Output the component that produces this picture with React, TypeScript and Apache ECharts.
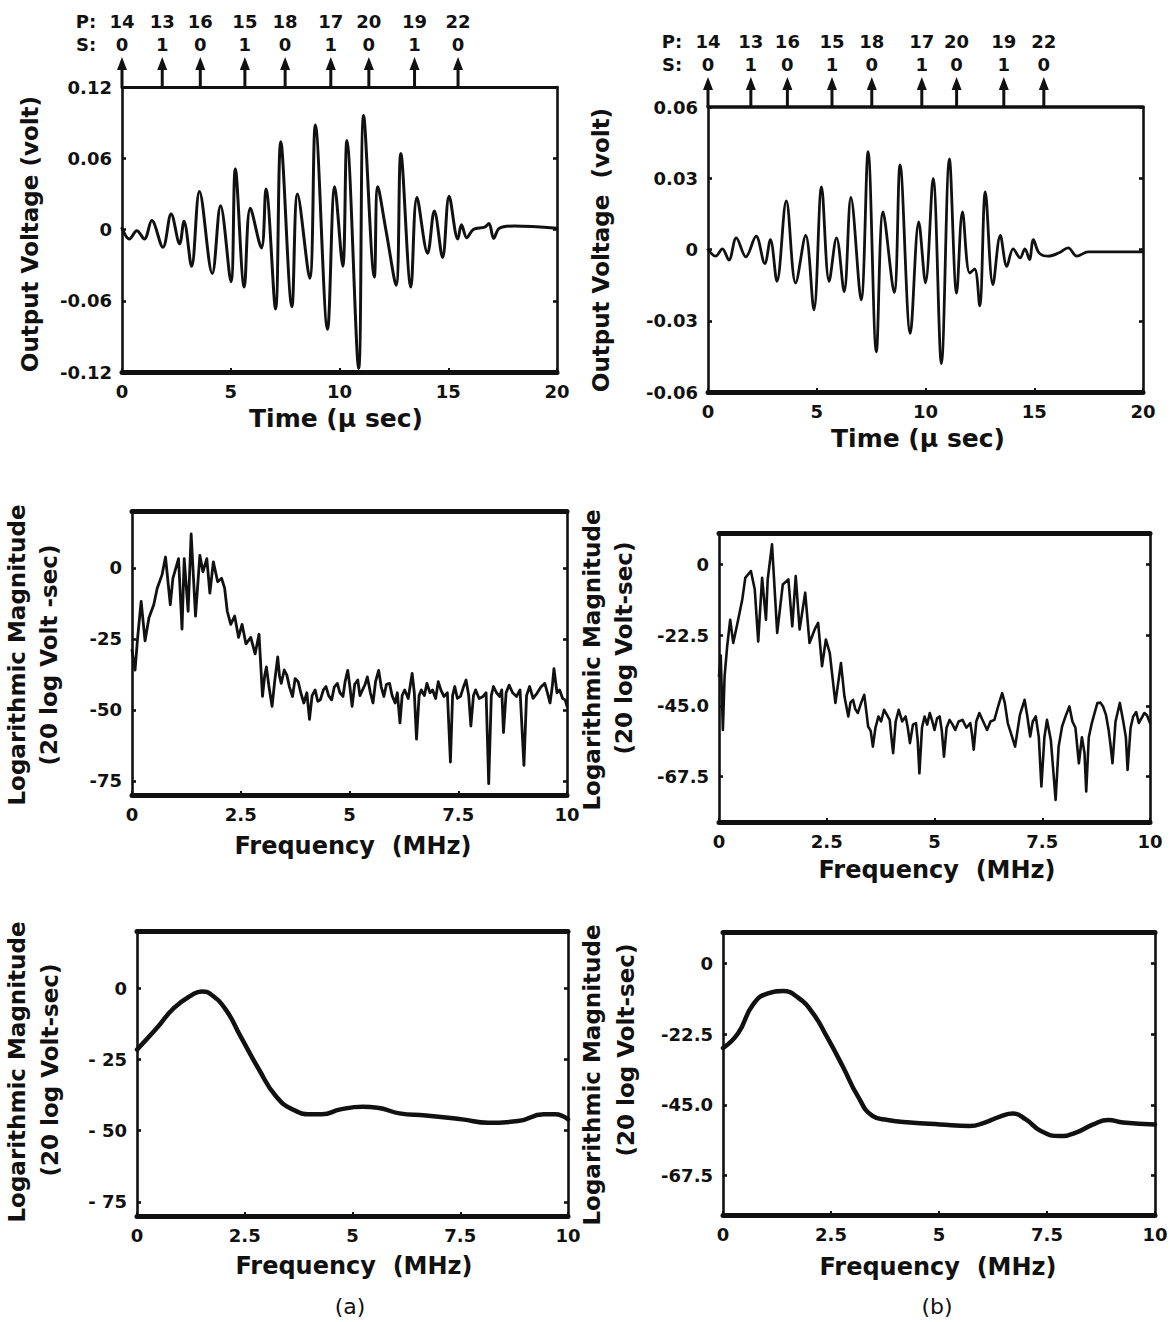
import React, { useEffect, useRef } from "react";
import * as echarts from "echarts";

const FONT = '"DejaVu Sans", "Liberation Sans", sans-serif';
const INK = "#111111";

// ---------- tick values and labels ----------
const timeTicks = [0, 5, 10, 15, 20];
const timeTickLabels = ["0", "5", "10", "15", "20"];
const freqTicks = [0, 2.5, 5, 7.5, 10];
const freqTickLabels = ["0", "2.5", "5", "7.5", "10"];
const p1YTicks = [0.12, 0.06, 0, -0.06, -0.12];
const p1YLabels = ["0.12", "0.06", "0", "-0.06", "-0.12"];
const p2YTicks = [0.06, 0.03, 0, -0.03, -0.06];
const p2YLabels = ["0.06", "0.03", "0", "-0.03", "-0.06"];
const magTicksA = [0, -25, -50, -75];
const magLabelsA = ["0", "-25", "-50", "-75"];
const magLabelsA2 = ["0", "- 25", "- 50", "- 75"];
const magTicksB = [0, -22.5, -45, -67.5];
const magLabelsB = ["0", "-22.5", "-45.0", "-67.5"];

// ---------- top annotations (pulse positions) ----------
const pLabels = ["14", "13", "16", "15", "18", "17", "20", "19", "22"];
const sLabels = ["0", "1", "0", "1", "0", "1", "0", "1", "0"];
const p1Arrows = [0, 1.85, 3.6, 5.65, 7.5, 9.6, 11.35, 13.45, 15.45];
const p2Arrows = [0, 1.97, 3.65, 5.7, 7.53, 9.83, 11.43, 13.6, 15.44];

// ---------- (a) output voltage vs time (µs, volt) ----------
const p1Signal = [
  [0, 0.001], [0.34, -0.008], [0.68, -0.001], [1.03, -0.008], [1.37, 0.0075], [1.88, -0.015],
  [2.26, 0.013], [2.65, -0.012], [2.85, 0.007], [3.2, -0.031], [3.56, 0.032], [4.15, -0.037],
  [4.53, 0.02], [5.01, -0.044], [5.21, 0.051], [5.62, -0.0485], [5.9, 0.018], [6.41, -0.0155],
  [6.62, 0.034], [7.06, -0.067], [7.3, 0.074], [7.81, -0.065], [8.07, 0.03], [8.63, -0.041],
  [8.89, 0.088], [9.45, -0.084], [9.78, 0.036], [10.15, -0.031], [10.34, 0.075], [10.88, -0.117],
  [11.11, 0.096], [11.6, -0.04], [11.76, 0.036], [12.14, -0.001], [12.6, -0.047], [12.82, 0.064],
  [13.28, -0.0485], [13.56, 0.027], [14.05, -0.02], [14.36, 0.0155], [14.74, -0.0235], [15.04, 0.028],
  [15.44, -0.008], [15.61, 0.004], [15.85, -0.007], [16.15, 0], [16.67, 0.002], [16.87, 0.005],
  [17.09, -0.0075], [17.35, 0.001], [18.03, 0.003], [20, 0.001],
];

// ---------- (b) output voltage vs time ----------
const p2Signal = [
  [0, 0], [0.35, -0.0028], [0.66, 0.0003], [0.96, -0.0045], [1.3, 0.0049], [1.74, -0.0031],
  [2.21, 0.0056], [2.61, -0.0059], [2.87, 0.0042], [3.17, -0.0134], [3.6, 0.0205], [4.03, -0.0141],
  [4.49, 0.0059], [4.87, -0.0254], [5.22, 0.0264], [5.57, -0.0134], [5.91, 0.0049], [6.26, -0.0177],
  [6.57, 0.0219], [7.04, -0.0212], [7.36, 0.0412], [7.74, -0.0431], [8.05, 0.0158], [8.56, -0.0181],
  [8.83, 0.0356], [9.3, -0.0353], [9.69, 0.0116], [10.0, -0.014], [10.35, 0.0299], [10.73, -0.048],
  [11.1, 0.0381], [11.43, -0.0184], [11.7, 0.0158], [12.03, -0.0099], [12.26, -0.0082], [12.49, -0.0237],
  [12.75, 0.0243], [13.1, -0.0148], [13.44, 0.0059], [13.74, -0.0071], [14.03, 0.0003], [14.35, -0.0035],
  [14.57, 0.0003], [14.78, -0.0042], [14.96, 0.0042], [15.22, -0.0014], [15.65, -0.0028], [16.14, -0.0014],
  [16.56, 0.0007], [16.96, -0.0028], [17.48, -0.001], [20, -0.001],
];

// ---------- (a) log magnitude spectrum (MHz, dB) ----------
const p3Spectrum = [
  [0, -29], [0.07, -36], [0.13, -24.5], [0.21, -11.8], [0.3, -25.7], [0.39, -17.6], [0.5, -13],
  [0.58, -7.2], [0.69, -2.5], [0.77, 3.8], [0.88, -13], [0.94, -3.7], [1.07, 3.2], [1.15, -21.6],
  [1.2, 3.2], [1.29, -15.3], [1.36, 11.9], [1.46, -17], [1.56, 4.4], [1.63, -1.4], [1.72, 3.2],
  [1.79, -8.9], [1.87, 2.1], [1.97, -4.9], [2.06, -3.7], [2.13, -7.2], [2.19, -15.3], [2.27, -19.9],
  [2.36, -17], [2.45, -24.5], [2.53, -19.9], [2.62, -26.8], [2.73, -24.5], [2.83, -30.3], [2.92, -23.4],
  [3.0, -45.3], [3.05, -38], [3.09, -34.9], [3.15, -42], [3.22, -48.8], [3.28, -40], [3.35, -31.4],
  [3.39, -38], [3.43, -40.7], [3.5, -36], [3.56, -37.8], [3.62, -42], [3.69, -45.3], [3.75, -39],
  [3.82, -40.1], [3.88, -44], [3.95, -47.6], [4.02, -44], [4.08, -53.4], [4.14, -45], [4.21, -43],
  [4.27, -47], [4.33, -46.5], [4.4, -43], [4.46, -41.8], [4.52, -45], [4.59, -46.5], [4.65, -42],
  [4.72, -40.7], [4.78, -44], [4.85, -45.3], [4.9, -40], [4.96, -36.1], [5.01, -42], [5.06, -48.8],
  [5.12, -41], [5.19, -39.5], [5.24, -45], [5.3, -43], [5.36, -41], [5.41, -38.4], [5.48, -44],
  [5.54, -47.6], [5.6, -40], [5.67, -36.1], [5.73, -42], [5.79, -45.3], [5.85, -41], [5.92, -40.7],
  [5.98, -45], [6.05, -47.6], [6.1, -44], [6.16, -54.6], [6.21, -45], [6.27, -43], [6.35, -46],
  [6.44, -37.2], [6.49, -44], [6.54, -60.3], [6.6, -45], [6.65, -43], [6.72, -45], [6.78, -40.7],
  [6.85, -44], [6.91, -43], [6.98, -46], [7.04, -40.1], [7.1, -43], [7.17, -45.3], [7.25, -44],
  [7.32, -68.4], [7.37, -45], [7.42, -41.8], [7.48, -46], [7.55, -45.3], [7.62, -42], [7.68, -39.5],
  [7.74, -45], [7.79, -55.7], [7.85, -45], [7.9, -43], [7.98, -46], [8.07, -45.3], [8.14, -44],
  [8.2, -76], [8.26, -45], [8.31, -41.8], [8.38, -44], [8.45, -45.3], [8.5, -43], [8.54, -58],
  [8.6, -44], [8.67, -41.3], [8.75, -44], [8.84, -45.3], [8.92, -43], [9.01, -69.6], [9.07, -45],
  [9.14, -41.8], [9.22, -46], [9.31, -44.2], [9.4, -42], [9.49, -40.7], [9.55, -44], [9.61, -47.6],
  [9.66, -42], [9.7, -35.5], [9.77, -44], [9.83, -43], [9.9, -46], [9.96, -46.5], [10, -48.8],
];

// ---------- (b) log magnitude spectrum ----------
const p4Spectrum = [
  [0, -35.6], [0.04, -29], [0.09, -52.7], [0.13, -35.6], [0.19, -26], [0.26, -17.6], [0.33, -25],
  [0.43, -18.6], [0.54, -11.2], [0.61, -4.3], [0.74, -2.1], [0.83, -8], [0.91, -24.5], [1.0, -4.3],
  [1.09, -17.6], [1.13, -4.8], [1.23, 6.4], [1.35, -21.8], [1.48, -6.4], [1.61, -4.8], [1.7, -19.7],
  [1.78, -3.7], [1.87, -20.7], [2.0, -9], [2.1, -25], [2.22, -20.7], [2.3, -18.6], [2.39, -32.4],
  [2.48, -23.9], [2.57, -28.2], [2.7, -44.1], [2.83, -31.4], [2.91, -42],
  [3.0, -48.4], [3.05, -44], [3.11, -43.1], [3.16, -46], [3.22, -47.3], [3.3, -44], [3.37, -41.5],
  [3.42, -47], [3.46, -51.6], [3.52, -53], [3.57, -58], [3.63, -52], [3.7, -48.4], [3.76, -50],
  [3.83, -46.3], [3.9, -48], [3.96, -49.5], [4.0, -55], [4.04, -60.1], [4.1, -50], [4.17, -46.3],
  [4.25, -50], [4.33, -48.4], [4.38, -52], [4.43, -56.9], [4.5, -51], [4.57, -50.5], [4.61, -56],
  [4.65, -66.5], [4.71, -52], [4.77, -48.4], [4.83, -51], [4.89, -47.3], [4.95, -50], [5.0, -52.7],
  [5.06, -49], [5.12, -48.4], [5.17, -53], [5.22, -61.2], [5.28, -52], [5.35, -49.5], [5.42, -51],
  [5.48, -52.7], [5.56, -50], [5.65, -49.5], [5.74, -52], [5.83, -50.5], [5.87, -54], [5.91, -59],
  [5.97, -50], [6.04, -47.3], [6.13, -50], [6.22, -52.7], [6.3, -50], [6.39, -49.5], [6.48, -45],
  [6.57, -41], [6.63, -44], [6.7, -50.5], [6.78, -54], [6.87, -58], [6.98, -48], [7.09, -43.1],
  [7.15, -48], [7.22, -54.8], [7.28, -50], [7.35, -48.4], [7.42, -55], [7.48, -70.7], [7.55, -55],
  [7.61, -49.5], [7.7, -56], [7.81, -75], [7.88, -58], [7.96, -51.6], [8.05, -48], [8.13, -45.2],
  [8.2, -50], [8.27, -52], [8.35, -63.3], [8.42, -55], [8.48, -60], [8.52, -72.3], [8.58, -55],
  [8.65, -50.5], [8.72, -47], [8.78, -44.1], [8.85, -44], [8.91, -45.2], [8.98, -48], [9.04, -52.7],
  [9.08, -57], [9.13, -63.3], [9.2, -50], [9.3, -44.1], [9.38, -50], [9.44, -55], [9.48, -65.4],
  [9.55, -52], [9.61, -48.4], [9.68, -47], [9.74, -50.5], [9.8, -49], [9.87, -47.3], [9.93, -48],
  [10, -50.5],
];

// ---------- (a) smoothed spectrum ----------
const p5Smooth = [
  [0, -21.6], [0.43, -14.6], [0.86, -7], [1.29, -2.3], [1.5, -1.2], [1.72, -2.3], [2.06, -7.6],
  [2.4, -16.9], [2.83, -28.6], [3.22, -37.9], [3.61, -42.6], [4.03, -44.3], [4.29, -44.3], [4.72, -42.6],
  [5.24, -41.7], [5.58, -42], [6.09, -44], [6.7, -44.7], [7.55, -46.1], [8.15, -47.3], [8.84, -46.7],
  [9.44, -44.3], [9.7, -44.3], [10, -46.1],
];

// ---------- (b) smoothed spectrum ----------
const p6Smooth = [
  [0, -26.9], [0.35, -22.2], [0.69, -13.2], [1.04, -9.5], [1.39, -8.8], [1.73, -10.8], [2.08, -15.8],
  [2.42, -23.7], [2.77, -32.7], [3.12, -42.2], [3.46, -48.5], [3.81, -49.8], [4.33, -50.6], [5.02, -51.2],
  [5.71, -51.7], [6.06, -50.6], [6.41, -48.7], [6.71, -47.7], [7.01, -49.6], [7.36, -53.3], [7.79, -54.9],
  [8.14, -54], [8.57, -51.2], [8.92, -49.8], [9.26, -50.6], [10, -51.2],
];

type Panel = {
  box: [number, number, number, number]; // left, top, right, bottom (px)
  xMin: number; xMax: number; xTicks: number[]; xLabels: string[];
  yMin: number; yMax: number; yTicks: number[]; yLabels: string[];
  data: number[][]; smooth: boolean | number; lw: number; topW: number;
  arrows?: number[];
};

const panels: Panel[] = [
  { box: [122, 87, 557, 372], xMin: 0, xMax: 20, xTicks: timeTicks, xLabels: timeTickLabels,
    yMin: -0.12, yMax: 0.12, yTicks: p1YTicks, yLabels: p1YLabels, data: p1Signal, smooth: 0.35, lw: 3, topW: 3, arrows: p1Arrows },
  { box: [708, 107, 1143, 392], xMin: 0, xMax: 20, xTicks: timeTicks, xLabels: timeTickLabels,
    yMin: -0.06, yMax: 0.06, yTicks: p2YTicks, yLabels: p2YLabels, data: p2Signal, smooth: 0.35, lw: 2.8, topW: 3.5, arrows: p2Arrows },
  { box: [132, 511, 567, 795], xMin: 0, xMax: 10, xTicks: freqTicks, xLabels: freqTickLabels,
    yMin: -80, yMax: 20, yTicks: magTicksA, yLabels: magLabelsA, data: p3Spectrum, smooth: false, lw: 2.8, topW: 5 },
  { box: [719, 533, 1150, 822], xMin: 0, xMax: 10, xTicks: freqTicks, xLabels: freqTickLabels,
    yMin: -82, yMax: 10, yTicks: magTicksB, yLabels: magLabelsB, data: p4Spectrum, smooth: false, lw: 2.6, topW: 5 },
  { box: [137, 931, 568, 1216], xMin: 0, xMax: 10, xTicks: freqTicks, xLabels: freqTickLabels,
    yMin: -80, yMax: 20, yTicks: magTicksA, yLabels: magLabelsA2, data: p5Smooth, smooth: 0.5, lw: 4.5, topW: 5 },
  { box: [723, 932, 1155, 1215], xMin: 0, xMax: 10, xTicks: freqTicks, xLabels: freqTickLabels,
    yMin: -80, yMax: 10, yTicks: magTicksB, yLabels: magLabelsB, data: p6Smooth, smooth: 0.5, lw: 4.5, topW: 5 },
];

const fmt = (vals: number[], labels: string[]) => (v: number) => {
  const i = vals.findIndex((a) => Math.abs(a - v) < 1e-6);
  return i >= 0 ? labels[i] : "";
};

const tickLabelStyle = { fontSize: 18, fontWeight: "bold" as const, fontFamily: FONT, color: INK };

function vText(text: string, x: number, y: number, size = 23) {
  return {
    type: "text", x, y, rotation: Math.PI / 2, silent: true,
    style: { text, fill: INK, font: `bold ${size}px ${FONT}`, textAlign: "center", textVerticalAlign: "middle" },
  };
}
function hText(text: string, x: number, y: number, size = 24, weight = "bold") {
  return {
    type: "text", x, y, silent: true,
    style: { text, fill: INK, font: `${weight} ${size}px ${FONT}`, textAlign: "center", textVerticalAlign: "middle" },
  };
}

function buildOption() {
  const grid: any[] = [];
  const xAxis: any[] = [];
  const yAxis: any[] = [];
  const series: any[] = [];

  panels.forEach((p, i) => {
    const [l, t, r, b] = p.box;
    grid.push({ left: l, top: t, width: r - l, height: b - t, show: false });
    xAxis.push({
      gridIndex: i, type: "value", min: p.xMin, max: p.xMax, position: "bottom",
      axisLine: { show: true, onZero: false, lineStyle: { color: INK, width: 5 } },
      axisTick: { show: true, inside: true, length: 4, customValues: p.xTicks, lineStyle: { color: INK, width: 2 } },
      axisLabel: { ...tickLabelStyle, margin: 10, customValues: p.xTicks, formatter: fmt(p.xTicks, p.xLabels) },
      splitLine: { show: false },
    });
    xAxis.push({
      gridIndex: i, type: "value", min: p.xMin, max: p.xMax, position: "top",
      axisLine: { show: true, onZero: false, lineStyle: { color: INK, width: p.topW } },
      axisTick: { show: false }, axisLabel: { show: false }, splitLine: { show: false },
    });
    yAxis.push({
      gridIndex: i, type: "value", min: p.yMin, max: p.yMax, position: "left",
      axisLine: { show: true, onZero: false, lineStyle: { color: INK, width: 2.6 } },
      axisTick: { show: true, inside: true, length: 4, customValues: p.yTicks, lineStyle: { color: INK, width: 2.6 } },
      axisLabel: { ...tickLabelStyle, margin: 10, customValues: p.yTicks, formatter: fmt(p.yTicks, p.yLabels) },
      splitLine: { show: false },
    });
    yAxis.push({
      gridIndex: i, type: "value", min: p.yMin, max: p.yMax, position: "right",
      axisLine: { show: true, onZero: false, lineStyle: { color: INK, width: 2.6 } },
      axisTick: { show: true, inside: true, length: 4, customValues: p.yTicks, lineStyle: { color: INK, width: 2.6 } },
      axisLabel: { show: false }, splitLine: { show: false },
    });
    series.push({
      type: "line", xAxisIndex: 2 * i, yAxisIndex: 2 * i, data: p.data, showSymbol: false,
      smooth: p.smooth, lineStyle: { color: INK, width: p.lw, join: "round", cap: "round" }, silent: true,
    });
    if (p.arrows) {
      const yTop = p.yMax;
      series.push({
        type: "custom", xAxisIndex: 2 * i, yAxisIndex: 2 * i, clip: false, silent: true,
        data: p.arrows.map((a, k) => [a, k]),
        renderItem: (_params: any, api: any) => {
          const tt = api.value(0);
          const k = api.value(1);
          const pt = api.coord([tt, yTop]);
          const x = pt[0], y = pt[1];
          const font = `bold 18px ${FONT}`;
          const children: any[] = [
            { type: "line", shape: { x1: x, y1: y, x2: x, y2: y - 20 }, style: { stroke: INK, lineWidth: 3 } },
            { type: "polygon", shape: { points: [[x - 5, y - 17], [x + 5, y - 17], [x, y - 30]] }, style: { fill: INK } },
            { type: "text", x, y: y - 66, style: { text: pLabels[k], fill: INK, font, textAlign: "center", textVerticalAlign: "middle" } },
            { type: "text", x, y: y - 43, style: { text: sLabels[k], fill: INK, font, textAlign: "center", textVerticalAlign: "middle" } },
          ];
          if (k === 0) {
            children.push({ type: "text", x: x - 36, y: y - 66, style: { text: "P:", fill: INK, font, textAlign: "center", textVerticalAlign: "middle" } });
            children.push({ type: "text", x: x - 36, y: y - 43, style: { text: "S:", fill: INK, font, textAlign: "center", textVerticalAlign: "middle" } });
          }
          return { type: "group", children };
        },
      });
    }
  });

  const graphic = [
    vText("Output Voltage (volt)", 30, 234),
    vText("Output Voltage  (volt)", 601, 250),
    vText("Logarithmic Magnitude", 17, 655),
    vText("(20 log Volt -sec)", 49, 655),
    vText("Logarithmic Magnitude", 592, 660),
    vText("(20 log Volt-sec)", 624, 648),
    vText("Logarithmic Magnitude", 17, 1072),
    vText("(20 log Volt-sec)", 50, 1070),
    vText("Logarithmic Magnitude", 592, 1075),
    vText("(20 log Volt-sec)", 626, 1050),
    hText("Time (\u03bc sec)", 336, 418, 25),
    hText("Time (\u03bc sec)", 918, 438, 25),
    hText("Frequency  (MHz)", 353, 846, 24),
    hText("Frequency  (MHz)", 937, 870, 24),
    hText("Frequency  (MHz)", 354, 1266, 24),
    hText("Frequency  (MHz)", 938, 1267, 24),
    hText("(a)", 350, 1306, 22, "normal"),
    hText("(b)", 937, 1306, 22, "normal"),
  ];

  return {
    animation: false,
    backgroundColor: "#ffffff",
    grid, xAxis, yAxis, series, graphic,
  };
}

export default function App() {
  const ref = useRef<HTMLDivElement>(null);
  useEffect(() => {
    if (!ref.current) return;
    const chart = echarts.init(ref.current, null, { renderer: "svg" });
    chart.setOption(buildOption() as any);
    return () => chart.dispose();
  }, []);
  return (
    <div
      ref={ref}
      style={{ position: "absolute", left: 0, top: 0, width: 1174, height: 1322, background: "#fff" }}
    />
  );
}
